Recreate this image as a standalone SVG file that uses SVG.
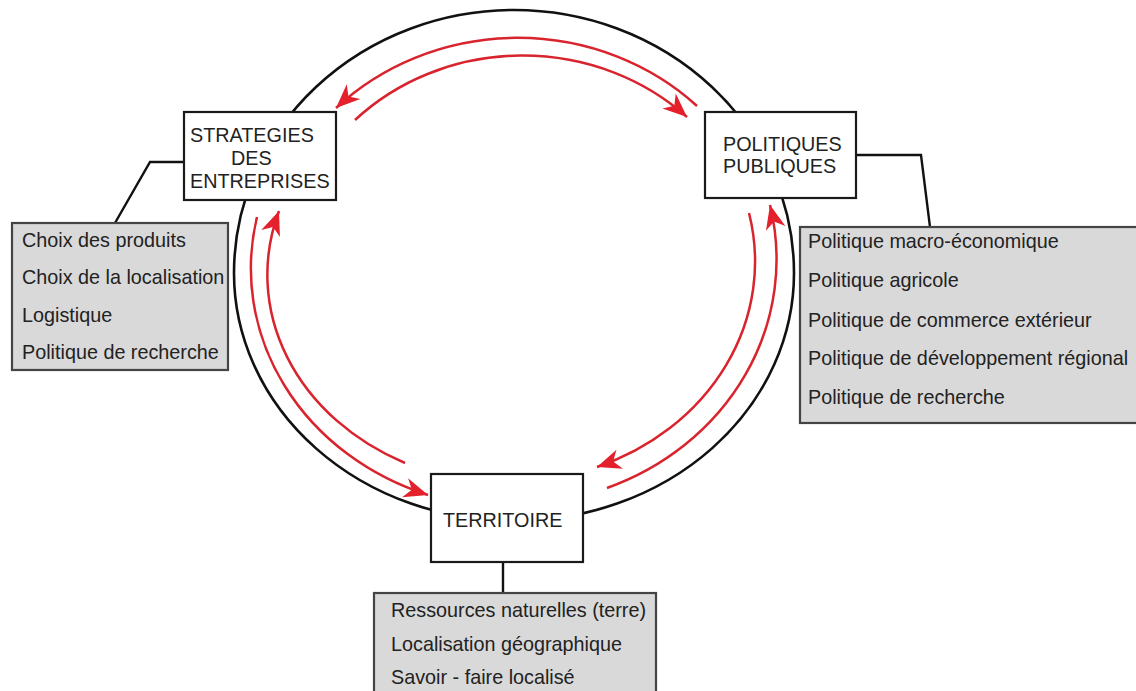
<svg xmlns="http://www.w3.org/2000/svg" width="1136" height="691" viewBox="0 0 1136 691">
  <style>
    .box { fill: #ffffff; stroke: #1a1a1a; stroke-width: 2.2; }
    .gbox { fill: #d9d9d9; stroke: #444444; stroke-width: 2.2; }
    .lbl { font-family: "Liberation Sans", Arial, sans-serif; font-size: 19.8px; fill: #222222; }
    .ring { fill: none; stroke: #111111; stroke-width: 2.6; }
    .red { fill: none; stroke: #d9232d; stroke-width: 2.5; marker-end: url(#arr); }
    .link { fill: none; stroke: #111111; stroke-width: 2.4; }
  </style>
  <defs>
    <marker id="arr" markerUnits="userSpaceOnUse" markerWidth="30" markerHeight="30" refX="0" refY="0" orient="auto" overflow="visible">
      <path d="M0,0 L-24,-10 L-17,0 L-24,10 Z" fill="#e3202c"/>
    </marker>
  </defs>
  <rect width="1136" height="691" fill="#ffffff"/>

  <g id="connectors">
    <path class="ring" d="M 234 273 A 280 263 0 0 1 794 273 A 280 248 0 0 1 234 273 Z"/>
    <path class="red" d="M 697 106 A 257 240 0 0 0 336 108"/>
    <path class="red" d="M 355 120 A 237 220 0 0 1 687 117"/>
    <path class="red" d="M 257 217 A 264 240 0 0 0 428 495"/>
    <path class="red" d="M 405 463 A 247 210 0 0 1 279 211"/>
    <path class="red" d="M 607 488 A 264 245 0 0 0 770 205"/>
    <path class="red" d="M 749 213 A 246 220 0 0 1 597 467"/>
    <polyline class="link" points="185,162 150,162 115,223"/>
    <polyline class="link" points="856,155 921,155 930,227"/>
    <line class="link" x1="503" y1="562" x2="503" y2="593"/>
  </g>

  <g id="node-strategies">
    <rect class="box" x="184" y="112" width="152" height="88"/>
    <text class="lbl" x="190" y="142">STRATEGIES</text>
    <text class="lbl" x="231" y="165">DES</text>
    <text class="lbl" x="190" y="188">ENTREPRISES</text>
  </g>

  <g id="node-politiques">
    <rect class="box" x="705" y="112" width="151" height="86"/>
    <text class="lbl" x="723" y="151">POLITIQUES</text>
    <text class="lbl" x="723" y="173">PUBLIQUES</text>
  </g>

  <g id="node-territoire">
    <rect class="box" x="431" y="474" width="152" height="88"/>
    <text class="lbl" x="443" y="527">TERRITOIRE</text>
  </g>

  <g id="node-entreprises-list">
    <rect class="gbox" x="12" y="223" width="216" height="147"/>
    <text class="lbl" x="22" y="247">Choix des produits</text>
    <text class="lbl" x="22" y="284">Choix de la localisation</text>
    <text class="lbl" x="22" y="322">Logistique</text>
    <text class="lbl" x="22" y="359">Politique de recherche</text>
  </g>

  <g id="node-politiques-list">
    <rect class="gbox" x="800" y="227" width="345" height="196"/>
    <text class="lbl" x="808" y="248">Politique macro-économique</text>
    <text class="lbl" x="808" y="287">Politique agricole</text>
    <text class="lbl" x="808" y="327">Politique de commerce extérieur</text>
    <text class="lbl" x="808" y="365">Politique de développement régional</text>
    <text class="lbl" x="808" y="404">Politique de recherche</text>
  </g>

  <g id="node-territoire-list">
    <rect class="gbox" x="374" y="593" width="282" height="110"/>
    <text class="lbl" x="391" y="617">Ressources naturelles (terre)</text>
    <text class="lbl" x="391" y="651">Localisation géographique</text>
    <text class="lbl" x="391" y="684">Savoir - faire localisé</text>
  </g>
</svg>
